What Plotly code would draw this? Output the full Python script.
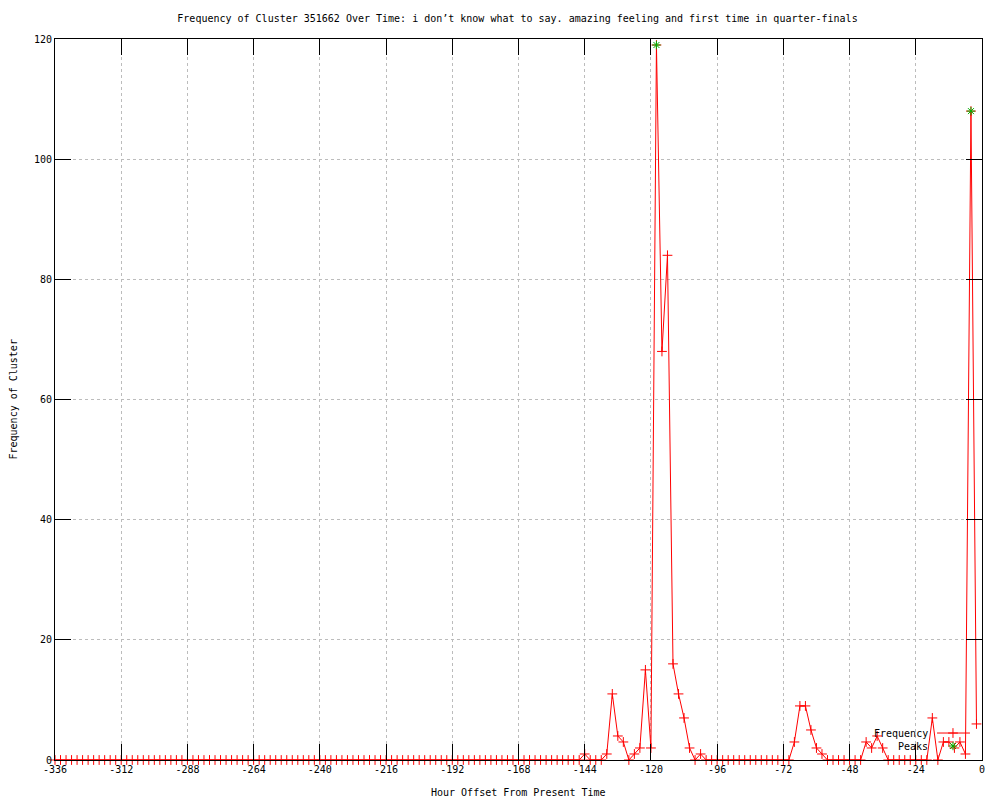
import plotly.graph_objects as go

# hour offsets (every 2 hours) and cluster frequency, one row per day
hours = list(range(-336, 0, 2))
frequency = [
    0, 0, 0, 0, 0, 0, 0, 0, 0, 0, 0, 0,        # -336 .. -314
    0, 0, 0, 0, 0, 0, 0, 0, 0, 0, 0, 0,        # -312 .. -290
    0, 0, 0, 0, 0, 0, 0, 0, 0, 0, 0, 0,        # -288 .. -266
    0, 0, 0, 0, 0, 0, 0, 0, 0, 0, 0, 0,        # -264 .. -242
    0, 0, 0, 0, 0, 0, 0, 0, 0, 0, 0, 0,        # -240 .. -218
    0, 0, 0, 0, 0, 0, 0, 0, 0, 0, 0, 0,        # -216 .. -194
    0, 0, 0, 0, 0, 0, 0, 0, 0, 0, 0, 0,        # -192 .. -170
    0, 0, 0, 0, 0, 0, 0, 0, 0, 0, 0, 0,        # -168 .. -146
    1, 0, 0, 0, 1, 11, 4, 3, 0, 1, 2, 15,      # -144 .. -122
    2, 119, 68, 84, 16, 11, 7, 2, 0, 1, 0, 0,  # -120 .. -98
    0, 0, 0, 0, 0, 0, 0, 0, 0, 0, 0, 0,        # -96 .. -74
    0, 0, 3, 9, 9, 5, 2, 1, 0, 0, 0, 0,        # -72 .. -50
    0, 0, 0, 3, 2, 4, 2, 0, 0, 0, 0, 0,        # -48 .. -26
    0, 0, 0, 7, 0, 3, 3, 2, 3, 1, 108, 6,      # -24 .. -2
]
peak_hours = [-118, -4]
peak_values = [119, 108]

x_ticks = list(range(-336, 1, 24))
x_tick_labels = [str(v) for v in x_ticks]
y_ticks = [0, 20, 40, 60, 80, 100, 120]

title = ("Frequency of Cluster 351662 Over Time: i don\u2019t know what to say. "
         "amazing feeling and first time in quarter-finals")

FONT = "DejaVu Sans Mono"
RED = "#ff0000"
GREEN = "#00b000"

# the page body adds an 8px offset, so the figure is 992x792
W, H = 992, 792

fig = go.Figure()
fig.add_trace(go.Scatter(
    x=hours, y=frequency, mode="lines+markers", name="Frequency",
    line=dict(color=RED, width=1),
    marker=dict(symbol="cross-thin", size=7, line=dict(color=RED, width=1)),
    cliponaxis=False, showlegend=False))
fig.add_trace(go.Scatter(
    x=peak_hours, y=peak_values, mode="markers", name="Peaks",
    marker=dict(symbol="asterisk", size=7, line=dict(color=GREEN, width=1)),
    cliponaxis=False, showlegend=False))

# gnuplot style key: text on the left, sample on the right (overlay axes 0..1)
fig.add_trace(go.Scatter(
    x=[0.9515, 0.9687, 0.987], y=[0.0374, 0.0374, 0.0374], xaxis="x2", yaxis="y2",
    mode="lines", line=dict(color=RED, width=1), showlegend=False, hoverinfo="skip"))
fig.add_trace(go.Scatter(
    x=[0.9687], y=[0.0374], xaxis="x2", yaxis="y2", mode="markers",
    marker=dict(symbol="cross-thin", size=7, line=dict(color=RED, width=1)),
    showlegend=False, hoverinfo="skip", cliponaxis=False))
fig.add_trace(go.Scatter(
    x=[0.9687], y=[0.0194], xaxis="x2", yaxis="y2", mode="markers",
    marker=dict(symbol="asterisk", size=7, line=dict(color=GREEN, width=1)),
    showlegend=False, hoverinfo="skip", cliponaxis=False))

axis_common = dict(
    showline=True, linecolor="black", linewidth=1, mirror="ticks",
    ticks="inside", ticklen=16, tickcolor="black", tickwidth=1,
    showgrid=True, gridcolor="#bcbcbc", griddash="dot", gridwidth=1,
    zeroline=False, tickfont=dict(family=FONT, size=10, color="black"))

fig.update_layout(
    width=W, height=H,
    paper_bgcolor="white", plot_bgcolor="white",
    margin=dict(l=47, r=18, t=31, b=40),
    font=dict(family=FONT, size=10, color="black"),
    title=dict(text=title, x=509.5 / W, xref="container", xanchor="center",
               y=1 - 10 / H, yref="container", yanchor="middle",
               font=dict(family=FONT, size=10, color="black")),
    xaxis=dict(range=[-336, 0], tickvals=x_ticks, ticktext=x_tick_labels, **axis_common),
    yaxis=dict(range=[0, 120], tickvals=y_ticks, **axis_common),
    xaxis2=dict(overlaying="x", range=[0, 1], visible=False),
    yaxis2=dict(overlaying="y", range=[0, 1], visible=False),
    annotations=[
        dict(text="Hour Offset From Present Time", xref="paper", yref="paper",
             x=0.5, y=-32 / 721, xanchor="center", yanchor="middle", showarrow=False),
        dict(text="Frequency of Cluster", xref="paper", yref="paper", textangle=-90,
             x=-42 / 927, y=0.5, xanchor="center", yanchor="middle", showarrow=False),
        dict(text="Frequency", xref="paper", yref="paper", x=0.9439, y=0.0374,
             xanchor="right", yanchor="middle", showarrow=False),
        dict(text="Peaks", xref="paper", yref="paper", x=0.9439, y=0.0194,
             xanchor="right", yanchor="middle", showarrow=False),
    ],
    showlegend=False,
)

fig.write_html("out.html")
